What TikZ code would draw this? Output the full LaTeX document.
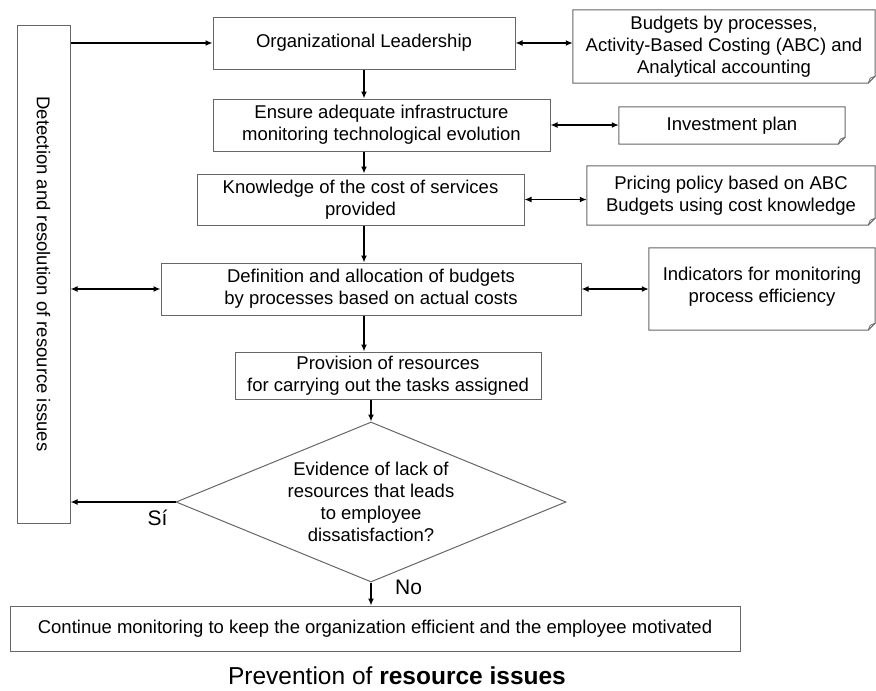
\documentclass[tikz,border=0pt]{standalone}
\usepackage{fontspec}
\setmainfont{Liberation Sans}
\usetikzlibrary{positioning,arrows.meta,shapes.geometric}

\begin{document}
\begin{tikzpicture}[x=1pt,y=-1pt,font=\fontsize{18.5}{22}\selectfont,
  box/.style={draw=black!60,line width=1pt,align=center,inner sep=0pt},
  note/.style={align=center,inner sep=0pt},
  arr/.style={-{Latex[length=7pt,width=6pt]},line width=1.7pt},
  both/.style={{Latex[length=7pt,width=6pt]}-{Latex[length=7pt,width=6pt]},line width=1.5pt}]
\useasboundingbox (0,0) rectangle (876,691);
% left feedback bar
\node[box,minimum width=53,minimum height=498] (det) at (43.5,274) {};
\node[rotate=-90] (dettxt) at (det) {Detection and resolution of resource issues};
% main column
\node[box,minimum width=302,minimum height=52] (lead) at (364,43) {Organizational Leadership};
\node[box,minimum width=337,minimum height=52] (infra) at (381.5,125) {Ensure adequate infrastructure\\monitoring technological evolution};
\node[box,minimum width=327,minimum height=51] (cost) at (360.5,199.5) {Knowledge of the cost of services\\provided};
\node[box,minimum width=420,minimum height=52] (budg) at (371,289) {Definition and allocation of budgets\\by processes based on actual costs};
\node[box,minimum width=306,minimum height=47] (prov) at (388,375.5) {Provision of resources\\for carrying out the tasks assigned};
\node[draw=black!60,line width=1pt,diamond,aspect=2.44,minimum width=390,minimum height=160,
      inner sep=0pt,align=center] (ev) at (371,502) {Evidence of lack of\\resources that leads\\to employee\\dissatisfaction?};
\node[box,minimum width=730,minimum height=45] (cont) at (375,628.5) {Continue monitoring to keep the organization efficient and the employee motivated};
\node[font=\fontsize{24.5}{28}\selectfont,inner sep=0pt] (ttl) at (397,676) {Prevention of \textbf{resource issues}};
% documents on the right
\node[note,minimum width=302,minimum height=73] (abc) at (724,46.5) {Budgets by processes,\\Activity-Based Costing (ABC) and\\Analytical accounting};
\node[note,minimum width=226,minimum height=37] (inv) at (732,125.5) {Investment plan};
\node[note,minimum width=288,minimum height=59] (price) at (731,195.5) {Pricing policy based on ABC\\Budgets using cost knowledge};
\node[note,minimum width=226,minimum height=82] (ind) at (762,289) {Indicators for monitoring\\process efficiency\\[-13pt]\mbox{}};
\foreach \n in {abc,inv,price,ind}{
  \draw[black!60,line width=1pt] (\n.north west) -- (\n.north east) -- ([yshift=7pt]\n.south east)
    -- ([xshift=-7pt]\n.south east) -- (\n.south west) -- cycle;
  \draw[black!60,line width=0.8pt] ([xshift=-7pt]\n.south east) -- ([xshift=-5pt,yshift=5pt]\n.south east)
    -- ([yshift=7pt]\n.south east);
}
% connectors
\draw[arr] (det.east |- lead.west) -- (lead.west);
\draw[both] (lead.east) -- (lead.east -| abc.west);
\draw[arr] (lead.south) -- (lead.south |- infra.north);
\draw[both] (infra.east) -- (infra.east -| inv.west);
\draw[arr] (infra.south -| lead.south) -- (cost.north -| lead.south);
\draw[both] (cost.east) -- (cost.east -| price.west);
\draw[arr] (cost.south -| lead.south) -- (budg.north -| lead.south);
\draw[both] (budg.east) -- (budg.east -| ind.west);
\draw[both] (det.east |- budg.west) -- (budg.west);
\draw[arr] (budg.south -| lead.south) -- (prov.north -| lead.south);
\draw[arr] (prov.south -| ev.north) -- (ev.north);
\draw[arr] (ev.west) -- (ev.west -| det.east)
  node[pos=0.17,below=4pt,font=\fontsize{21}{25}\selectfont] {Sí};
\draw[arr] (ev.south) -- (ev.south |- cont.north)
  node[pos=0.2,right=20pt,font=\fontsize{21}{25}\selectfont] {No};
\end{tikzpicture}
\end{document}
